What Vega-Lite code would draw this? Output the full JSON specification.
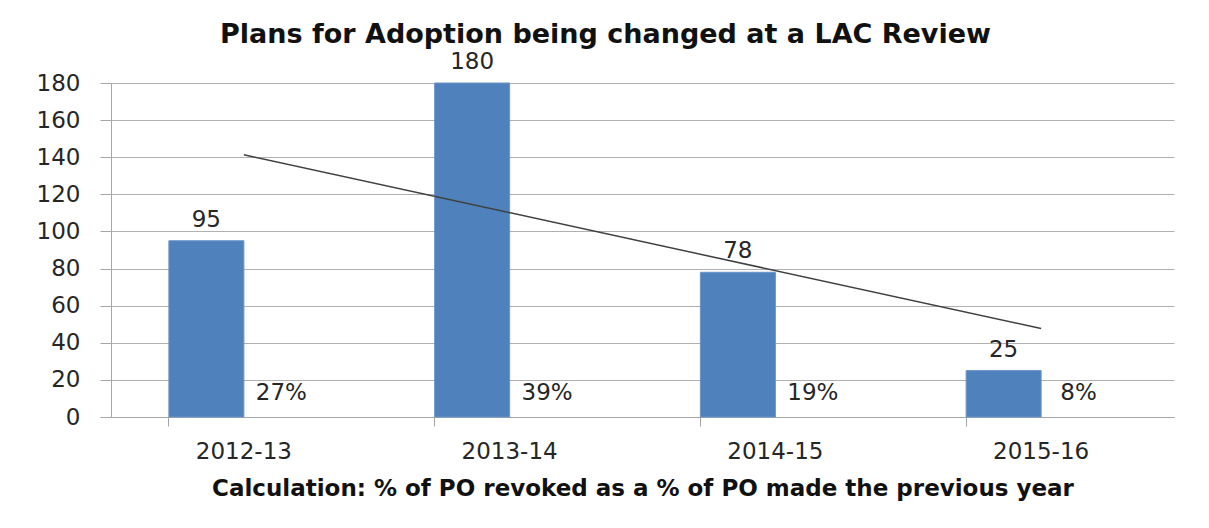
{
  "$schema": "https://vega.github.io/schema/vega-lite/v6.json",
  "autosize": {"type": "none"},
  "width": 1063,
  "height": 334,
  "padding": {"left": 111, "top": 83, "right": 35, "bottom": 111},
  "background": "white",
  "title": {
    "text": "Plans for Adoption being changed at a LAC Review",
    "font": "DejaVu Sans",
    "fontSize": 27,
    "fontWeight": "bold",
    "color": "#111111",
    "anchor": "middle",
    "dx": -37,
    "offset": 2
  },
  "config": {
    "view": {"stroke": null},
    "axis": {
      "domainColor": "#a6a6a6",
      "tickColor": "#a6a6a6",
      "gridColor": "#b0b0b0",
      "labelFont": "DejaVu Sans",
      "labelColor": "#262626",
      "titleFont": "DejaVu Sans",
      "titleColor": "#111111"
    }
  },
  "data": {
    "values": [
      {"year": "2012-13", "series": "Number", "value": 95, "label": "95"},
      {"year": "2012-13", "series": "Percent", "value": 0.27, "label": "27%"},
      {"year": "2013-14", "series": "Number", "value": 180, "label": "180"},
      {"year": "2013-14", "series": "Percent", "value": 0.39, "label": "39%"},
      {"year": "2014-15", "series": "Number", "value": 78, "label": "78"},
      {"year": "2014-15", "series": "Percent", "value": 0.19, "label": "19%"},
      {"year": "2015-16", "series": "Number", "value": 25, "label": "25"},
      {"year": "2015-16", "series": "Percent", "value": 0.08, "label": "8%"}
    ]
  },
  "encoding": {
    "x": {
      "field": "year",
      "type": "nominal",
      "sort": null,
      "scale": {"paddingInner": 0.4356, "paddingOuter": 0.2178},
      "axis": {
        "orient": "bottom",
        "bandPosition": 0,
        "labelAngle": 0,
        "tickSize": 9,
        "labelPadding": 14,
        "labelFontSize": 23,
        "title": "Calculation: % of PO revoked as a % of PO made the previous year",
        "titleFontSize": 23,
        "titleFontWeight": "bold",
        "titlePadding": 14
      }
    },
    "xOffset": {"field": "series", "type": "nominal", "sort": ["Number", "Percent"], "scale": {"paddingInner": 0, "paddingOuter": 0}},
    "y": {
      "field": "value",
      "type": "quantitative",
      "scale": {"domain": [0, 180], "nice": false},
      "axis": {
        "values": [0, 20, 40, 60, 80, 100, 120, 140, 160, 180],
        "tickSize": 11,
        "labelPadding": 20,
        "labelFontSize": 23,
        "title": null,
        "grid": true
      }
    }
  },
  "layer": [
    {
      "transform": [{"filter": "datum.series === 'Number'"}],
      "mark": {"type": "bar", "color": "#4f81bd", "stroke": "#6a95c8", "strokeWidth": 1},
      "encoding": {}
    },
    {
      "transform": [{"filter": "datum.series === 'Number'"}],
      "mark": {"type": "text", "font": "DejaVu Sans", "fontSize": 23, "color": "#262626", "baseline": "bottom", "dy": -9},
      "encoding": {"text": {"field": "label"}}
    },
    {
      "transform": [{"filter": "datum.series === 'Percent'"}],
      "mark": {"type": "text", "font": "DejaVu Sans", "fontSize": 23, "color": "#262626", "baseline": "middle", "dy": -24},
      "encoding": {"text": {"field": "label"}, "y": {"datum": 0}}
    },
    {
      "data": {
        "values": [
          {"year": "2012-13", "trend": 141.3},
          {"year": "2015-16", "trend": 47.7}
        ]
      },
      "mark": {"type": "line", "color": "#404040", "strokeWidth": 1.5},
      "encoding": {
        "xOffset": null,
        "y": {"field": "trend", "type": "quantitative"}
      }
    }
  ]
}
